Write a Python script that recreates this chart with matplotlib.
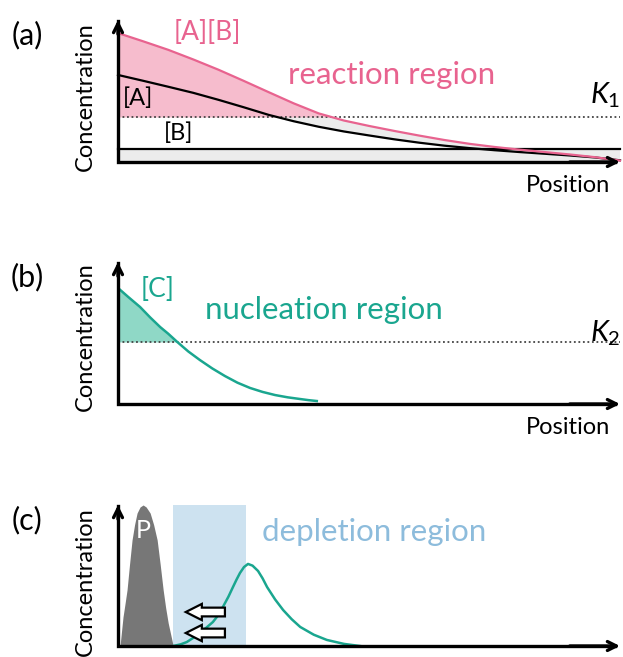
import matplotlib
matplotlib.use("Agg")
import matplotlib.pyplot as plt
from matplotlib.patches import FancyArrow

plt.rcParams['font.family'] = ['Lato', 'DejaVu Sans']
plt.rcParams['mathtext.fontset'] = 'custom'
plt.rcParams['mathtext.it'] = 'Lato:italic'
plt.rcParams['mathtext.rm'] = 'Lato'

# ---- panel (a): reaction region ----
pos_a = [0, 0.5, 1, 1.5, 2, 2.5, 3, 3.5, 4, 4.5, 5, 5.5, 6, 6.5, 7, 7.5, 8, 8.5, 9, 9.5, 10]
conc_ab = [9.08, 8.50, 7.90, 7.22, 6.50, 5.72, 4.92, 4.13, 3.42, 2.92, 2.54, 2.19,
           1.86, 1.55, 1.28, 1.06, 0.87, 0.70, 0.53, 0.34, 0.10]
conc_a = [6.13, 5.72, 5.30, 4.87, 4.38, 3.86, 3.32, 2.87, 2.48, 2.15, 1.87, 1.60,
          1.36, 1.15, 0.98, 0.83, 0.70, 0.58, 0.46, 0.32, 0.12]
conc_b = 0.92
K1 = 3.17

# ---- panel (b): nucleation region ----
pos_c = [0, 0.2, 0.44, 0.64, 0.84, 1.0, 1.18, 1.4, 1.63, 1.88, 2.13, 2.38, 2.63,
         2.88, 3.13, 3.38, 3.63, 3.8, 3.96]
conc_c = [8.17, 7.55, 6.83, 6.1, 5.42, 4.95, 4.37, 3.7, 3.10, 2.5, 1.97, 1.5, 1.13,
          0.85, 0.63, 0.47, 0.35, 0.27, 0.21]
K2 = 4.37

# ---- panel (c): depletion region ----
pos_p = [0.04, 0.10, 0.14, 0.18, 0.23, 0.28, 0.33, 0.38, 0.44, 0.50, 0.56, 0.64,
         0.71, 0.78, 0.84, 0.90, 0.95, 1.00, 1.10]
conc_p = [0, 2.06, 3.0, 3.97, 5.8, 7.52, 8.6, 9.43, 9.86, 10, 9.86, 9.43,
          8.6, 7.52, 5.8, 3.97, 2.7, 1.63, 0]
pos_c2 = [1.10, 1.25, 1.37, 1.50, 1.63, 1.76, 1.89, 2.0, 2.09, 2.2, 2.29, 2.36, 2.43,
          2.51, 2.59, 2.68, 2.79, 2.88, 2.97, 3.13, 3.29, 3.46, 3.63, 3.9, 4.16, 4.5, 4.82]
conc_c2 = [0, 0.12, 0.28, 0.58, 0.92, 1.30, 1.70, 2.2, 2.77, 3.5, 4.18, 4.7, 5.18,
           5.6, 5.82, 5.7, 5.32, 4.8, 4.18, 3.3, 2.55, 1.9, 1.35, 0.8, 0.43, 0.15, 0]
depletion = (1.10, 2.55)
flux_levels = [2.41, 0.92]

pink = '#e8638f'
pink_fill = '#f6bccd'
teal = '#1aa68f'
teal_fill = '#8fd8c6'
blue_fill = '#cde2f0'
blue_text = '#8dbcdc'

W, H = 623, 657
fig = plt.figure(figsize=(W / 100, H / 100), dpi=100)


def panel(top, bottom):
    ax = fig.add_axes([118 / W, 1 - bottom / H, 502 / W, (bottom - top) / H])
    ax.set_xlim(0, 10)
    ax.set_ylim(0, 10)
    ax.axis('off')
    ax.plot([0, 0, 9.9], [9.9, 0, 0], color='black', lw=2.4,
            solid_joinstyle='miter', clip_on=False, zorder=5)
    for xy, xyt in [((0, 10), (0, 9)), ((10, 0), (9, 0))]:
        ax.annotate('', xy=xy, xytext=xyt, annotation_clip=False,
                    arrowprops=dict(arrowstyle='->', lw=2.4, color='black',
                                    mutation_scale=16, shrinkA=0, shrinkB=0), zorder=5)
    return ax


def ylabel(y_px):
    fig.text(85 / W, 1 - y_px / H, 'Concentration', rotation=90, fontsize=17,
             ha='center', va='center')


# (a)
ax = panel(20, 162)
ax.fill_between([0, 10], 0, conc_b, color='#ececec', lw=0)
ax.fill_between(pos_a, conc_ab, conc_a, where=[p >= 3 for p in pos_a],
                interpolate=True, color='#ececec', lw=0)
ax.fill_between(pos_a, conc_ab, K1, where=[c >= K1 for c in conc_ab],
                interpolate=True, color=pink_fill, lw=0)
ax.plot([0, 10], [K1, K1], color='#444444', lw=1.3, ls=(0, (1, 1.5)))
ax.plot([0, 10], [conc_b, conc_b], color='black', lw=1.6, clip_on=False)
ax.plot(pos_a, conc_a, color='black', lw=1.6, clip_on=False)
ax.plot(pos_a, conc_ab, color=pink, lw=1.6, clip_on=False)
ax.text(1.77, 9.1, '[A][B]', color=pink, fontsize=19, ha='center', va='center')
ax.text(5.44, 6.13, 'reaction region', color=pink, fontsize=22.5, ha='center', va='center')
ax.text(0.40, 4.5, '[A]', fontsize=17, ha='center', va='center')
ax.text(1.20, 2.04, '[B]', fontsize=17, ha='center', va='center')
ax.text(9.7, 4.72, r'$K_{\mathit{1}}$', fontsize=21, ha='center', va='center')
ax.text(8.96, -1.62, 'Position', fontsize=17, ha='center', va='center')
fig.text(27 / W, 1 - 35 / H, '(a)', fontsize=22, ha='center', va='center')
ylabel(97)

# (b)
ax = panel(262, 404)
ax.fill_between(pos_c, conc_c, K2, where=[c >= K2 for c in conc_c],
                interpolate=True, color=teal_fill, lw=0)
ax.plot([0, 10], [K2, K2], color='#444444', lw=1.3, ls=(0, (1, 1.5)))
ax.plot(pos_c, conc_c, color=teal, lw=1.8)
ax.text(0.78, 8.03, '[C]', color=teal, fontsize=19, ha='center', va='center')
ax.text(4.10, 6.62, 'nucleation region', color=teal, fontsize=22.5, ha='center', va='center')
ax.text(9.7, 5.0, r'$K_{\mathit{2}}$', fontsize=21, ha='center', va='center')
ax.text(8.96, -1.62, 'Position', fontsize=17, ha='center', va='center')
fig.text(27 / W, 1 - 277 / H, '(b)', fontsize=22, ha='center', va='center')
ylabel(337)

# (c)
ax = panel(505, 646)
ax.axvspan(depletion[0], depletion[1], ymin=0, ymax=1, color=blue_fill, lw=0)
ax.fill_between(pos_p, conc_p, 0, color='#777777', lw=0)
ax.plot(pos_c2, conc_c2, color=teal, lw=1.8)
for lvl in flux_levels:
    ax.add_patch(FancyArrow(2.13, lvl, -0.78, 0, width=0.62, head_width=1.15,
                            head_length=0.32, length_includes_head=True,
                            fc='white', ec='black', lw=1.6, zorder=4))
ax.text(0.5, 8.2, 'P', color='white', fontsize=18, ha='center', va='center')
ax.text(5.1, 8.09, 'depletion region', color=blue_text, fontsize=22.5, ha='center', va='center')
fig.text(27 / W, 1 - 520 / H, '(c)', fontsize=22, ha='center', va='center')
ylabel(582)

fig.savefig('out.png', dpi=100)
